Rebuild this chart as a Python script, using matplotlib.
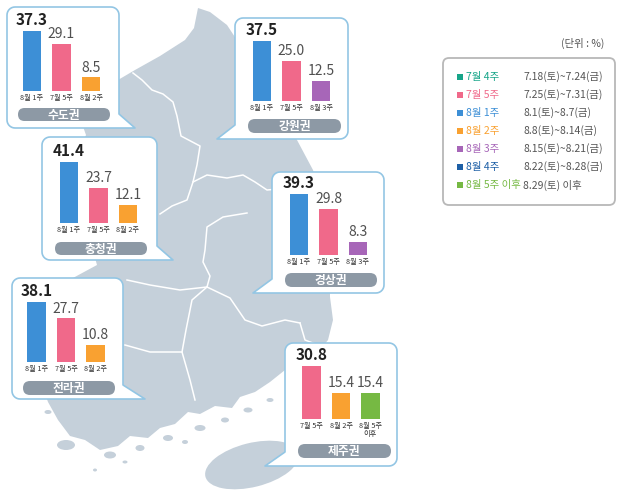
import numpy as np
import matplotlib
matplotlib.use("Agg")
import matplotlib.pyplot as plt
from matplotlib.patches import Polygon, FancyBboxPatch, Ellipse, Rectangle

plt.rcParams['font.family'] = ['Noto Sans CJK KR', 'DejaVu Sans']

# === 데이터 ===
regions = ["수도권", "강원권", "충청권", "경상권", "전라권", "제주권"]

sudo_weeks = ["8월 1주", "7월 5주", "8월 2주"]
sudo_vals = [37.3, 29.1, 8.5]
gangwon_weeks = ["8월 1주", "7월 5주", "8월 3주"]
gangwon_vals = [37.5, 25.0, 12.5]
chung_weeks = ["8월 1주", "7월 5주", "8월 2주"]
chung_vals = [41.4, 23.7, 12.1]
gyeong_weeks = ["8월 1주", "7월 5주", "8월 3주"]
gyeong_vals = [39.3, 29.8, 8.3]
jeolla_weeks = ["8월 1주", "7월 5주", "8월 2주"]
jeolla_vals = [38.1, 27.7, 10.8]
jeju_weeks = ["7월 5주", "8월 2주", "8월 5주 이후"]
jeju_vals = [30.8, 15.4, 15.4]

legend_weeks = ["7월 4주", "7월 5주", "8월 1주", "8월 2주", "8월 3주", "8월 4주", "8월 5주 이후"]
legend_periods = ["7.18(토)~7.24(금)", "7.25(토)~7.31(금)", "8.1(토)~8.7(금)", "8.8(토)~8.14(금)",
                  "8.15(토)~8.21(금)", "8.22(토)~8.28(금)", "8.29(토) 이후"]

# === 스타일 ===
week_colors = {
    "7월 4주": "#17a589",
    "7월 5주": "#f0698a",
    "8월 1주": "#3d8fd6",
    "8월 2주": "#f9a131",
    "8월 3주": "#a766b8",
    "8월 4주": "#1d5fa6",
    "8월 5주 이후": "#76b943",
}
MAP_C = "#c5d0da"
BOX_EC = "#93c6e4"
BAND_C = "#8d99a5"

# 박스 위치 (픽셀: L, T, R, B), 꼬리 (방향, 끝x, 끝y, 꺾이는 높이)
boxes = [
    (7, 7, 119, 128, ("br", 135, 128, 14)),
    (235, 18, 348, 139, ("bl", 217, 139, 14)),
    (42, 137, 157, 260, ("br", 173, 260, 14)),
    (272, 172, 384, 293, ("bl", 253, 293, 14)),
    (12, 278, 123, 399, ("br", 145, 399, 14)),
    (285, 343, 397, 466, ("bl", 265, 466, 14)),
]
bands = [(18, 110, 108, 121), (248, 341, 119, 133), (55, 147, 242, 255),
         (285, 377, 273, 287), (23, 115, 381, 395), (298, 391, 444, 458)]
# 첫 막대 중심x, 바닥y, 최대막대 높이
bar_layout = [(32, 91, 60), (262, 101, 60), (69, 223, 61),
              (299, 255, 61), (36.5, 362, 60), (311.5, 419, 53)]
region_weeks = [sudo_weeks, gangwon_weeks, chung_weeks, gyeong_weeks, jeolla_weeks, jeju_weeks]
region_vals = [sudo_vals, gangwon_vals, chung_vals, gyeong_vals, jeolla_vals, jeju_vals]

W, H = 620, 501
fig = plt.figure(figsize=(W / 100, H / 100), dpi=100)
ax = fig.add_axes([0, 0, 1, 1])
ax.set_xlim(0, W)
ax.set_ylim(H, 0)
ax.axis("off")

# === 지도 (대략적인 윤곽) ===
mainland = [
    (118, 80), (135, 70), (160, 56), (185, 40), (194, 28), (198, 8), (210, 12), (227, 25),
    (250, 60), (275, 100), (297, 140), (313, 170), (322, 200), (328, 240), (330, 270),
    (330, 297), (333, 320), (328, 340), (318, 352), (300, 362), (285, 370), (270, 382),
    (255, 392), (240, 397), (232, 408), (215, 406), (200, 414), (188, 412), (175, 424),
    (160, 428), (148, 438), (130, 436), (118, 446), (100, 450), (85, 440), (70, 436),
    (58, 420), (48, 402), (40, 380), (30, 340), (35, 300), (60, 285), (97, 265),
    (90, 240), (80, 200), (75, 160), (86, 135), (80, 118), (100, 95),
]
ax.add_patch(Polygon(mainland, closed=True, fc=MAP_C, ec="none", zorder=1))
islands = [(66, 445, 18, 10), (110, 455, 12, 7), (140, 448, 9, 6), (168, 438, 10, 6),
           (200, 428, 11, 6), (225, 420, 8, 5), (248, 410, 9, 5), (48, 412, 7, 4),
           (95, 470, 4, 3), (185, 442, 6, 4), (270, 400, 7, 4), (125, 462, 5, 3)]
for x, y, w, h in islands:
    ax.add_patch(Ellipse((x, y), w, h, fc=MAP_C, ec="none", zorder=1))
ax.add_patch(Ellipse((252, 465), 96, 44, angle=-14, fc=MAP_C, ec="none", zorder=1))

borders = [
    [(133, 73), (142, 80), (152, 90), (163, 94), (173, 102), (177, 116), (181, 136),
     (200, 146), (197, 165), (193, 182), (187, 200), (172, 206), (160, 214)],
    [(193, 182), (207, 175), (227, 178), (243, 175), (255, 182), (267, 190), (290, 188)],
    [(247, 213), (223, 217), (207, 227), (205, 250), (203, 262), (210, 276), (207, 287)],
    [(127, 280), (150, 285), (180, 290), (207, 287)],
    [(207, 287), (192, 300), (186, 330), (182, 352), (190, 380), (195, 400)],
    [(207, 287), (230, 298), (245, 320), (262, 326), (285, 320), (300, 323)],
    [(125, 345), (150, 352), (182, 352)],
    [(300, 323), (305, 340), (318, 345)],
]
for line in borders:
    xs, ys = zip(*line)
    ax.plot(xs, ys, color="white", lw=1.1, zorder=2, solid_joinstyle="round")


def callout(L, T, R, B, tail, r=8):
    kind, tx, ty, th = tail
    def arc(cx, cy, a0, a1):
        a = np.radians(np.linspace(a0, a1, 8))
        return list(zip(cx + r * np.cos(a), cy + r * np.sin(a)))
    pts = [(L + r, T), (R - r, T)]
    pts += arc(R - r, T + r, -90, 0)
    if kind == "br":
        pts += [(R, B - th), (tx, ty), (L + r, B)]
        pts += arc(L + r, B - r, 90, 180)
    else:
        pts += [(R, B - r)]
        pts += arc(R - r, B - r, 0, 90)
        pts += [(tx, ty), (L, B - th)]
    pts += [(L, T + r)]
    pts += arc(L + r, T + r, 180, 270)
    return Polygon(pts, closed=True, fc="white", ec=BOX_EC, lw=1.2, zorder=3,
                   joinstyle="round")


for i, name in enumerate(regions):
    L, T, R, B, tail = boxes[i]
    ax.add_patch(callout(L, T, R, B, tail))
    bx0, bx1, by0, by1 = bands[i]
    bh = by1 - by0
    ax.add_patch(FancyBboxPatch((bx0, by0), bx1 - bx0, bh,
                                boxstyle=f"round,pad=0,rounding_size={bh / 2}",
                                fc=BAND_C, ec="none", zorder=4))
    ax.text((bx0 + bx1) / 2, (by0 + by1) / 2 + 0.5, name, color="white", fontsize=8.5,
            fontweight="bold", ha="center", va="center", zorder=5)

    # 막대 그래프 (inset)
    c0, base, hpx = bar_layout[i]
    sp = 29.5
    x0 = c0 - sp / 2
    vals = region_vals[i]
    weeks = region_weeks[i]
    iax = fig.add_axes([x0 / W, 1 - base / H, 3 * sp / W, hpx / H])
    iax.set_xlim(-0.5, 2.5)
    iax.set_ylim(0, max(vals))
    iax.patch.set_alpha(0)
    for s in iax.spines.values():
        s.set_visible(False)
    iax.set_yticks([])
    xs = np.arange(len(vals))
    iax.bar(xs, vals, width=0.64, color=[week_colors[w] for w in weeks], clip_on=False)
    for j, v in enumerate(vals):
        bold = (j == 0)
        iax.annotate(f"{v:.1f}", (j, v), xytext=(0, 2.5 if bold else 2),
                     textcoords="offset points",
                     ha="center", va="bottom", fontsize=11 if bold else 10,
                     fontweight="bold" if bold else "light",
                     color="#222222" if bold else "#505050", annotation_clip=False)
    ticklabels = [w.replace(" 이후", "\n이후") for w in weeks]
    iax.set_xticks(xs, ticklabels)
    iax.tick_params(axis="x", length=0, pad=2.5, labelsize=5.2, labelcolor="#333333")
    for lab in iax.get_xticklabels():
        lab.set_linespacing(1.0)

# === 범례 ===
ax.text(583, 43, "(단위 : %)", fontsize=7.5, color="#555555", ha="center", va="center")
ax.add_patch(FancyBboxPatch((443, 58), 172, 147, boxstyle="round,pad=0,rounding_size=6",
                            fc="white", ec="#b8b8b8", lw=1.3, zorder=3))
for k, (wk, per) in enumerate(zip(legend_weeks, legend_periods)):
    y = 77 + k * 18
    col = week_colors[wk]
    ax.add_patch(Rectangle((456.5, y - 3), 6, 6, fc=col, ec="none", zorder=4))
    ax.text(466, y, wk, color=col, fontsize=7.5, fontweight="medium",
            ha="left", va="center", zorder=4)
    ax.text(523, y, per, color="#555555", fontsize=7.5, ha="left", va="center", zorder=4)

fig.savefig("out.png", dpi=100)
